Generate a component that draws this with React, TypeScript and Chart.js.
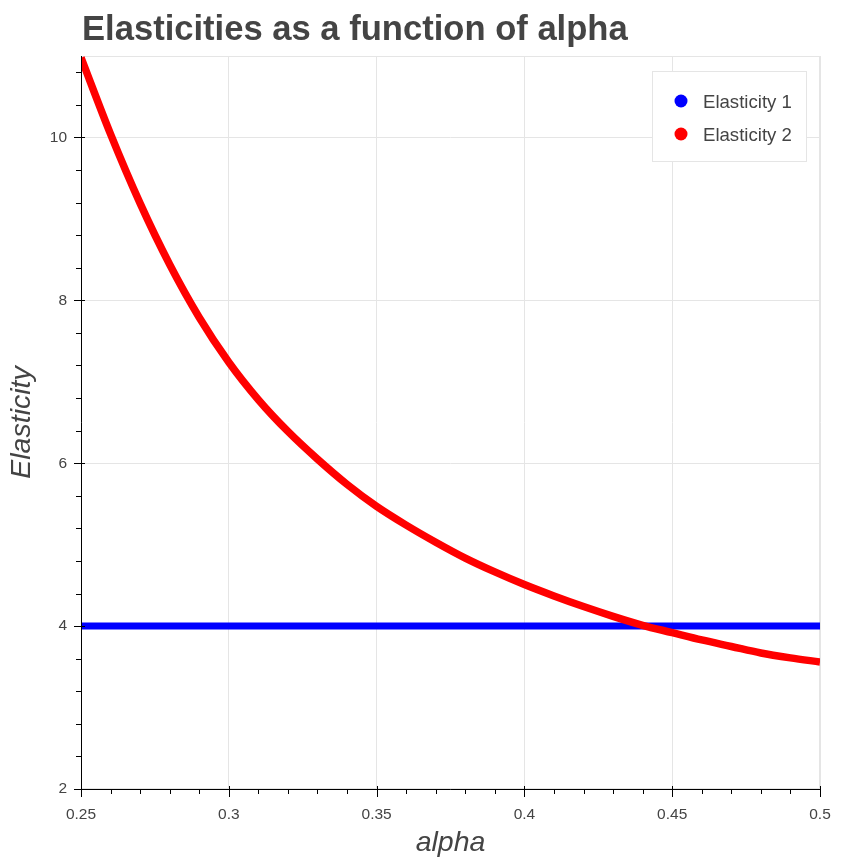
import { Chart, registerables, type Plugin } from 'chart.js';
import { useEffect, useRef } from 'react';

Chart.register(...registerables);

const alpha = [
  0.25, 0.26, 0.27, 0.28, 0.29, 0.3, 0.31, 0.32, 0.33, 0.34, 0.35, 0.36, 0.37,
  0.38, 0.39, 0.4, 0.41, 0.42, 0.43, 0.44, 0.45, 0.46, 0.47, 0.48, 0.49, 0.5,
];
const elasticity1 = [
  4, 4, 4, 4, 4, 4, 4, 4, 4, 4, 4, 4, 4, 4, 4, 4, 4, 4, 4, 4, 4, 4, 4, 4, 4, 4,
];
const elasticity2 = [
  10.98, 10.04, 9.19, 8.44, 7.79, 7.24, 6.78, 6.39, 6.05, 5.74, 5.47, 5.24, 5.03,
  4.835, 4.665, 4.51, 4.37, 4.24, 4.12, 4.01, 3.92, 3.83, 3.75, 3.67, 3.61, 3.56,
];

const xMajorTicks = [0.25, 0.3, 0.35, 0.4, 0.45, 0.5];
const yMajorTicks = [2, 4, 6, 8, 10];

const FONT = '"Liberation Sans", Arial, sans-serif';
const TEXT = '#444444';
const GRID = '#e5e5e5';

const isMajor = (majors: number[], v: number) => majors.some((m) => Math.abs(m - v) < 1e-6);

// major ticks plus the minor ones between them
const buildTicks = (min: number, max: number, step: number, majors: number[]) => {
  const n = Math.round((max - min) / step);
  const ticks = [];
  for (let i = 0; i <= n; i++) {
    const value = Number((min + i * step).toFixed(4));
    ticks.push({ value, major: isMajor(majors, value) });
  }
  return ticks;
};

const framePlugin: Plugin<'scatter'> = {
  id: 'frame',
  beforeDatasetsDraw(chart) {
    const { ctx, chartArea } = chart;
    ctx.save();
    ctx.strokeStyle = GRID;
    ctx.lineWidth = 1;
    ctx.strokeRect(chartArea.left + 0.5, chartArea.top + 0.5, chartArea.width - 1, chartArea.height - 1);
    ctx.restore();
  },
  afterDraw(chart) {
    const { ctx, chartArea } = chart;
    const { left, right, top, bottom } = chartArea;
    const x = chart.scales.x;
    const y = chart.scales.y;
    ctx.save();

    // axes and tick marks
    ctx.strokeStyle = '#000';
    ctx.lineWidth = 1;
    ctx.beginPath();
    ctx.moveTo(left + 0.5, top);
    ctx.lineTo(left + 0.5, bottom + 0.5);
    ctx.lineTo(right, bottom + 0.5);
    for (const t of x.ticks) {
      const px = Math.round(x.getPixelForValue(t.value)) + 0.5;
      if (t.major) {
        ctx.moveTo(px, bottom - 3);
        ctx.lineTo(px, bottom + 8);
      } else {
        ctx.moveTo(px, bottom);
        ctx.lineTo(px, bottom + 5);
      }
    }
    for (const t of y.ticks) {
      const py = Math.round(y.getPixelForValue(t.value)) + 0.5;
      if (t.major) {
        ctx.moveTo(left + 4, py);
        ctx.lineTo(left - 7, py);
      } else {
        ctx.moveTo(left, py);
        ctx.lineTo(left - 5, py);
      }
    }
    ctx.stroke();

    // titles
    ctx.fillStyle = TEXT;
    ctx.textAlign = 'left';
    ctx.textBaseline = 'alphabetic';
    ctx.font = `bold 34.6px ${FONT}`;
    ctx.fillText('Elasticities as a function of alpha', 82, 40);

    ctx.font = `italic 28.5px ${FONT}`;
    ctx.textAlign = 'center';
    ctx.fillText('alpha', (left + right) / 2, 851);
    ctx.save();
    ctx.translate(30, (top + bottom) / 2);
    ctx.rotate(-Math.PI / 2);
    ctx.fillText('Elasticity', 0, 0);
    ctx.restore();

    // legend
    ctx.fillStyle = '#fff';
    ctx.fillRect(652, 71, 154, 90);
    ctx.strokeStyle = GRID;
    ctx.strokeRect(652.5, 71.5, 154, 90);
    ctx.font = `18.6px ${FONT}`;
    ctx.textAlign = 'left';
    chart.data.datasets.forEach((ds, i) => {
      const cy = 101 + i * 33;
      ctx.fillStyle = ds.borderColor as string;
      ctx.beginPath();
      ctx.arc(681, cy, 6.5, 0, Math.PI * 2);
      ctx.fill();
      ctx.fillStyle = TEXT;
      ctx.fillText(ds.label ?? '', 703, cy + 7);
    });

    ctx.restore();
  },
};

export default function App() {
  const canvasRef = useRef<HTMLCanvasElement>(null);

  useEffect(() => {
    if (!canvasRef.current) return;
    const chart = new Chart(canvasRef.current, {
      type: 'scatter',
      data: {
        datasets: [
          {
            label: 'Elasticity 1',
            data: alpha.map((a, i) => ({ x: a, y: elasticity1[i] })),
            borderColor: '#0000ff',
            backgroundColor: '#0000ff',
            showLine: true,
            pointRadius: 0,
            borderWidth: 7,
            order: 2,
          },
          {
            label: 'Elasticity 2',
            data: alpha.map((a, i) => ({ x: a, y: elasticity2[i] })),
            borderColor: '#ff0000',
            backgroundColor: '#ff0000',
            showLine: true,
            pointRadius: 0,
            borderWidth: 7.5,
            cubicInterpolationMode: 'monotone',
            order: 1,
          },
        ],
      },
      options: {
        animation: false,
        responsive: false,
        layout: { padding: { left: 0, top: 56, right: 42, bottom: 0 } },
        plugins: {
          legend: { display: false },
          tooltip: { enabled: false },
          title: { display: false },
        },
        scales: {
          x: {
            type: 'linear',
            min: 0.25,
            max: 0.5,
            afterBuildTicks: (scale) => {
              scale.ticks = buildTicks(0.25, 0.5, 0.01, xMajorTicks);
            },
            afterFit: (scale) => {
              scale.height = 73;
            },
            border: { display: false },
            grid: {
              drawTicks: false,
              color: (c) => (c.tick && isMajor(xMajorTicks, c.tick.value) ? GRID : 'rgba(0,0,0,0)'),
            },
            ticks: {
              autoSkip: false,
              maxRotation: 0,
              padding: 16,
              color: TEXT,
              font: { family: FONT, size: 15.5 },
              callback: (v) => (isMajor(xMajorTicks, Number(v)) ? String(Number(Number(v).toFixed(2))) : ''),
            },
          },
          y: {
            type: 'linear',
            min: 2,
            max: 11,
            afterBuildTicks: (scale) => {
              scale.ticks = buildTicks(2, 10.8, 0.4, yMajorTicks);
            },
            afterFit: (scale) => {
              scale.width = 81;
            },
            border: { display: false },
            grid: {
              drawTicks: false,
              color: (c) => (c.tick && isMajor(yMajorTicks, c.tick.value) ? GRID : 'rgba(0,0,0,0)'),
            },
            ticks: {
              autoSkip: false,
              padding: 14,
              color: TEXT,
              font: { family: FONT, size: 15.5 },
              callback: (v) => (isMajor(yMajorTicks, Number(v)) ? String(Number(v)) : ''),
            },
          },
        },
      },
      plugins: [framePlugin],
    });
    return () => chart.destroy();
  }, []);

  return (
    <div style={{ position: 'fixed', left: 0, top: 0, width: 862, height: 862, background: '#fff' }}>
      <canvas ref={canvasRef} width={862} height={862} style={{ display: 'block' }} />
    </div>
  );
}
